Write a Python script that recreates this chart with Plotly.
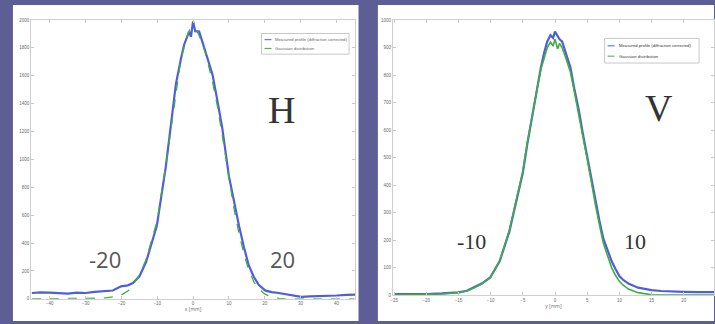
import plotly.graph_objects as go

# ---------------- data ----------------
# Horizontal profile (left panel)
h_meas_x = [-45.0, -42.5, -40.0, -37.5, -34.9, -32.5, -30.0, -27.5, -25.2, -22.4, -20.1, -18.2, -16.8, -15.0,
            -13.1, -11.6, -10.1, -7.6, -6.2, -4.8, -3.4, -2.5, -1.1, -0.6, 0.0, 0.6, 1.7, 3.5, 5.4, 6.8,
            8.1, 10.0, 11.4, 12.8, 14.2, 15.5, 16.9, 18.3, 20.2, 22.0, 23.9, 25.7, 27.6, 30.2, 32.7, 35.0,
            37.7, 40.1, 42.8, 45.3]
h_meas_y = [42, 47, 45, 40, 38, 44, 42, 50, 54, 60, 90, 97, 113, 160,
            266, 400, 526, 950, 1230, 1540, 1720, 1823, 1917, 1880, 1990, 1920, 1917, 1776, 1611, 1420,
            1233, 880, 700, 526, 370, 243, 160, 101, 59, 48, 42, 35, 24, 14, 18, 19,
            22, 24, 28, 31]
h_fit_x = [-45, -30, -25, -22, -20, -18, -16.8, -15, -13, -11.6, -10, -7.6, -6, -4.8, -3.4, -2, -1, 0,
           1, 2, 3.5, 5.4, 6.8, 8.1, 10, 11.4, 12.8, 14.2, 15.5, 17, 18.3, 20, 22, 24, 26, 45]
h_fit_y = [0, 0, 5, 15, 28, 60, 100, 170, 290, 420, 560, 960, 1250, 1500, 1720, 1860, 1930, 1950,
           1925, 1870, 1760, 1560, 1380, 1180, 860, 650, 470, 320, 210, 120, 70, 35, 12, 3, 0, 0]

# Vertical profile (right panel)
v_meas_x = [-24.9, -22.5, -20.0, -17.6, -15.0, -13.7, -12.7, -11.4, -10.1, -8.6, -7.1, -6.1, -5.0, -4.3,
            -3.5, -2.7, -2.2, -1.7, -1.2, -0.7, -0.3, 0.0, 0.4, 0.7, 1.1, 1.7, 2.4, 3.0, 3.7, 4.3, 5.0,
            5.6, 6.3, 6.9, 7.5, 8.2, 8.8, 9.4, 10.0, 10.6, 11.4, 12.9, 13.9, 15.0, 16.5, 18.1, 19.9,
            22.2, 24.7]
v_meas_y = [4, 3, 4, 6, 10, 16, 27, 42, 63, 123, 230, 330, 445, 550,
            660, 760, 827, 880, 922, 945, 935, 958, 940, 930, 922, 880, 827, 750, 672, 590, 505,
            420, 338, 270, 206, 160, 123, 95, 69, 55, 42, 27, 22, 18, 15, 13, 12,
            11, 11]
v_fit_x = [-25, -20, -17.6, -15, -13.7, -12.7, -11.4, -10, -8.6, -7.1, -6.1, -5, -4.3, -3.5, -2.7, -2.2,
           -1.7, -1.2, -0.7, -0.3, 0, 0.4, 0.7, 1.1, 1.7, 2.4, 3, 3.7, 4.3, 5, 5.6, 6.3, 6.9, 7.5, 8.2,
           8.8, 9.4, 10, 10.6, 11.4, 12.9, 13.9, 15, 18, 25]
v_fit_y = [0, 1, 4, 9, 15, 25, 40, 65, 125, 235, 335, 450, 555, 665, 760, 820,
           865, 900, 920, 905, 930, 895, 915, 900, 860, 810, 740, 660, 580, 495, 410, 325, 255, 190, 140,
           100, 72, 50, 36, 22, 9, 4, 1, 0, 0]

h_xticks = [-40, -30, -20, -10, 0, 10, 20, 30, 40]
h_yticks = [0, 200, 400, 600, 800, 1000, 1200, 1400, 1600, 1800, 2000]
v_xticks = [-25, -20, -15, -10, -5, 0, 5, 10, 15, 20]
v_yticks = [0, 100, 200, 300, 400, 500, 600, 700, 800, 900, 1000]

legend_labels = ["Measured profile (diffraction corrected)", "Gaussian distribution"]

# ---------------- figure ----------------
W, H = 715, 324
BLUE = "#4f5edc"
GREEN = "#3fae3f"
PURPLE = "#5e5e96"

fig = go.Figure()
fig.add_trace(go.Scatter(x=h_meas_x, y=h_meas_y, mode="lines", line=dict(color=BLUE, width=2.2),
                         xaxis="x", yaxis="y", showlegend=False))
fig.add_trace(go.Scatter(x=h_fit_x, y=h_fit_y, mode="lines", line=dict(color=GREEN, width=1.3, dash="dash"),
                         xaxis="x", yaxis="y", showlegend=False))
fig.add_trace(go.Scatter(x=v_meas_x, y=v_meas_y, mode="lines", line=dict(color=BLUE, width=2.2),
                         xaxis="x2", yaxis="y2", showlegend=False))
fig.add_trace(go.Scatter(x=v_fit_x, y=v_fit_y, mode="lines", line=dict(color=GREEN, width=1.6),
                         xaxis="x2", yaxis="y2", showlegend=False))

def px(x):
    return x / W

def py(y):
    return 1 - y / H

axis_common = dict(showgrid=False, zeroline=False, showline=True, linecolor="#cfcfcf", linewidth=1,
                   mirror="ticks", ticks="inside", ticklen=3, tickcolor="#c8c8c8",
                   tickfont=dict(size=4.5, color="#6a6a6a", family="Liberation Sans"))

fig.update_layout(
    width=W, height=H, margin=dict(l=0, r=0, t=0, b=0),
    paper_bgcolor=PURPLE, plot_bgcolor="white",
    xaxis=dict(domain=[px(28.3), px(354)], range=[-45.2, 45.2], tickvals=h_xticks, anchor="y",
               title=dict(text="x [mm]", font=dict(size=5, color="#6a6a6a"), standoff=2), **axis_common),
    yaxis=dict(domain=[1 - 301.5 / H, 1 - 18.3 / H], range=[0, 2000], tickvals=h_yticks, anchor="x",
               **axis_common),
    xaxis2=dict(domain=[px(392), 1.0], range=[-25.2, 24.7], tickvals=v_xticks, anchor="y2",
                title=dict(text="y [mm]", font=dict(size=5, color="#6a6a6a"), standoff=2), **axis_common),
    yaxis2=dict(domain=[1 - 297.7 / H, 1 - 18.3 / H], range=[0, 1000], tickvals=v_yticks, anchor="x2",
                **axis_common),
)

# white panels
fig.add_shape(type="rect", xref="paper", yref="paper", x0=px(10), x1=px(357.5), y0=0, y1=py(3),
              fillcolor="white", line=dict(width=0), layer="below")
fig.add_shape(type="rect", xref="paper", yref="paper", x0=px(377), x1=1.0, y0=0, y1=py(3),
              fillcolor="white", line=dict(width=0), layer="below")

# manual legends
def legend(x0, y0, x1, y1, bold=False):
    fig.add_shape(type="rect", xref="paper", yref="paper", x0=px(x0), x1=px(x1), y0=py(y1), y1=py(y0),
                  fillcolor="white", line=dict(color="#c8c8c8", width=1))
    rows = [y0 + (y1 - y0) * 0.3, y0 + (y1 - y0) * 0.72]
    cols = [BLUE, GREEN]
    for r, c, lab in zip(rows, cols, legend_labels):
        fig.add_shape(type="line", xref="paper", yref="paper", x0=px(x0 + 3), x1=px(x0 + 10),
                      y0=py(r), y1=py(r), line=dict(color=c, width=1))
        fig.add_annotation(xref="paper", yref="paper", x=px(x0 + 12), y=py(r), text=lab, showarrow=False,
                           xanchor="left", yanchor="middle",
                           font=dict(size=4.2, color="#333" if bold else "#666", family="Liberation Sans"))

legend(260, 32, 348, 53)
legend(605, 37, 700, 62, bold=True)

# big labels
def label(x, y, text, size, family, color="#333"):
    fig.add_annotation(xref="paper", yref="paper", x=px(x), y=py(y), text=text, showarrow=False,
                       xanchor="center", yanchor="middle", font=dict(size=size, family=family, color=color))

label(280, 110, "H", 38, "Liberation Serif")
label(660, 108, "V", 38, "Liberation Serif")
label(103, 261, "-20", 22, "Open Sans", "#555")
label(281, 261, "20", 22, "Open Sans", "#555")
label(471, 243, "-10", 22, "Liberation Serif", "#333")
label(636, 243, "10", 22, "Liberation Serif", "#333")

fig.write_html("out.html")
